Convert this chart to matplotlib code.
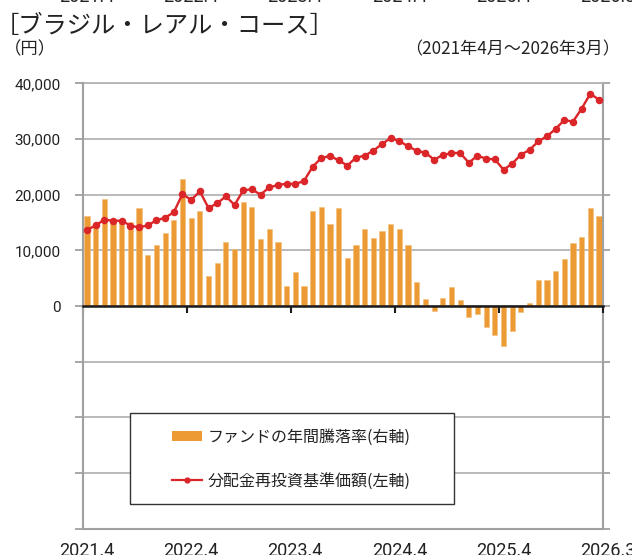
import matplotlib
matplotlib.use('Agg')
import matplotlib.pyplot as plt
from matplotlib.patches import Rectangle, Patch
from matplotlib.lines import Line2D
from matplotlib.transforms import blended_transform_factory
from matplotlib.ticker import FuncFormatter
import numpy as np

plt.rcParams['font.family'] = ['Noto Sans CJK JP', 'DejaVu Sans']

# ---------------- data ----------------
months = [f'{2021 + (3 + i) // 12}.{(3 + i) % 12 + 1}' for i in range(60)]

nav = [13650, 14490, 15500, 15320, 15320, 14420, 14130, 14490, 15390, 15860, 16830, 20120,
       19040, 20600, 17600, 18440, 19700, 18140, 20780, 20960, 19990, 21320, 21730, 21970,
       21910, 22450, 25020, 26580, 26940, 26170, 25230, 26640, 27000, 27890, 29100, 30170,
       29630, 28680, 27890, 27530, 26280, 27120, 27480, 27480, 25740, 27000, 26460, 26340,
       24480, 25560, 27180, 28020, 29580, 30480, 31790, 33410, 33100, 35440, 38130, 37050]

ret = [32.3, 29.5, 38.4, 30.3, 29.9, 30.3, 35.2, 18.3, 21.9, 26.2, 31.0, 45.5,
       31.5, 34.1, 10.7, 15.6, 23.1, 20.5, 37.4, 35.4, 24.2, 27.8, 23.1, 7.1,
       12.2, 7.1, 34.0, 35.6, 29.3, 35.2, 17.2, 22.0, 27.7, 24.3, 26.9, 29.5,
       27.8, 22.0, 8.7, 2.5, -1.9, 2.9, 6.7, 2.3, -4.1, -2.9, -7.7, -10.4,
       -14.2, -9.0, -2.0, 1.2, 9.5, 9.3, 12.5, 17.0, 22.7, 24.7, 35.3, 32.3]

xtick_labels = ['2021.4', '2022.4', '2023.4', '2024.4', '2025.4', '2026.3']
xtick_label_pos = [0, 12, 24, 36, 48, 60]
year_boundaries = [-0.5, 11.5, 23.5, 35.5, 47.5, 59.5]

left_ticks = [-40000, -30000, -20000, -10000, 0, 10000, 20000, 30000, 40000]
right_ticks = [-80, -60, -40, -20, 0, 20, 40, 60, 80]

title = '［ブラジル・レアル・コース］'
unit_label = '（円）'
period_label = '（2021年4月～2026年3月）'
bar_label = 'ファンドの年間騰落率(右軸)'
line_label = '分配金再投資基準価額(左軸)'

# ---------------- style ----------------
W, H = 632, 555
BAR_C = '#EC9A34'
LINE_C = '#DA2529'
GRID_C = '#B4B4B4'
SPINE_C = '#A0A0A0'
TXT_C = '#222222'

fig = plt.figure(figsize=(W / 100, H / 100), dpi=100)
fig.patch.set_facecolor('white')

L, R, T, B = 82.7, 603.3, 83.3, 528.7
ax = fig.add_axes([L / W, 1 - B / H, (R - L) / W, (B - T) / H])
ax2 = ax.twinx()
ax.set_zorder(ax2.get_zorder() + 1)
ax.patch.set_visible(False)
ax2.patch.set_visible(False)

x = np.arange(len(months))

# bars on right axis
ax2.bar(x, ret, width=0.6, color=BAR_C, edgecolor='#F3BE7A', linewidth=0.4, zorder=2)
ax2.set_ylim(-80, 80)
ax2.set_yticks(right_ticks)
ax2.tick_params(axis='y', which='major', direction='out', length=5, width=1.3,
                color=SPINE_C, labelright=False, right=True)
ax2.grid(axis='y', color=GRID_C, linewidth=1.3)
ax2.set_axisbelow(True)
for s in ['right', 'bottom', 'top']:
    ax2.spines[s].set_color(SPINE_C)
    ax2.spines[s].set_linewidth(1.5)
ax2.spines['top'].set_color(GRID_C)
ax2.spines['top'].set_linewidth(1.3)
ax2.spines['left'].set_visible(False)

# line on left axis
ax.plot(x, nav, color=LINE_C, linewidth=1.7, marker='o', markersize=5.4,
        markeredgewidth=0, zorder=3)
ax.set_xlim(-0.5, 59.5)
ax.set_ylim(-40000, 40000)
ax.set_yticks(left_ticks)
ax.yaxis.set_major_formatter(FuncFormatter(lambda v, p: f'{int(v):,}' if v >= 0 else ''))
ax.tick_params(axis='y', direction='out', length=6, width=1.3, color=SPINE_C,
               pad=10, labelsize=11, labelcolor=TXT_C)
for lab in ax.get_yticklabels():
    lab.set_fontfamily(['Roboto', 'DejaVu Sans'])
ax.spines['left'].set_color(SPINE_C)
ax.spines['left'].set_linewidth(1.5)
ax.spines['right'].set_visible(False)
ax.spines['top'].set_visible(False)
ax.spines['bottom'].set_position(('data', 0))
ax.spines['bottom'].set_color('#1a1a1a')
ax.spines['bottom'].set_linewidth(1.8)
ax.set_xticks(year_boundaries)
ax.set_xticklabels([''] * len(year_boundaries))
ax.tick_params(axis='x', direction='out', length=5, width=1.5, color='#1a1a1a')

# x labels at bottom (cut at image edge, as in the reference)
trans = blended_transform_factory(ax.transData, fig.transFigure)
xfam = ['Liberation Sans Narrow', 'Roboto', 'DejaVu Sans']
for pos, lab in zip(xtick_label_pos, xtick_labels):
    ax.text(pos, -1.5 / H, lab, transform=trans, ha='center', va='baseline',
            fontsize=13, color=TXT_C, family=xfam, clip_on=False)
    # remnants of the previous chart's labels cut off at the top edge
    ax.text(pos, 1 - 2.0 / H, lab, transform=trans, ha='center', va='baseline',
            fontsize=13, color=TXT_C, family=xfam, clip_on=False)

# titles
fig.text(-5 / W, 1 - 26 / H, title, fontsize=17.5, color=TXT_C, va='center', ha='left')
fig.text(4 / W, 1 - 49 / H, unit_label, fontsize=12.5, color=TXT_C, va='center', ha='left')
fig.text(620 / W, 1 - 49 / H, period_label, fontsize=12.3, color=TXT_C, va='center', ha='right')

# legend (frame drawn separately)
fig.patches.append(Rectangle((130 / W, 1 - 504 / H), 324 / W, 91 / H,
                             transform=fig.transFigure, facecolor='white',
                             edgecolor='#333333', linewidth=1.0, zorder=5))
handles = [Patch(facecolor=BAR_C, edgecolor='none'),
           Line2D([], [], color=LINE_C, linewidth=1.6, marker='o', markersize=4.5, markeredgewidth=0)]
leg = fig.legend(handles, [bar_label, line_label], loc='center left',
                 bbox_to_anchor=(172 / W, 1 - 459 / H), frameon=False,
                 fontsize=11.5, handlelength=1.9, handleheight=0.6,
                 handletextpad=0.35, labelspacing=1.7, borderpad=0, borderaxespad=0)
leg.set_zorder(6)
for t in leg.get_texts():
    t.set_color(TXT_C)

fig.savefig('out.png', dpi=100, facecolor='white')
